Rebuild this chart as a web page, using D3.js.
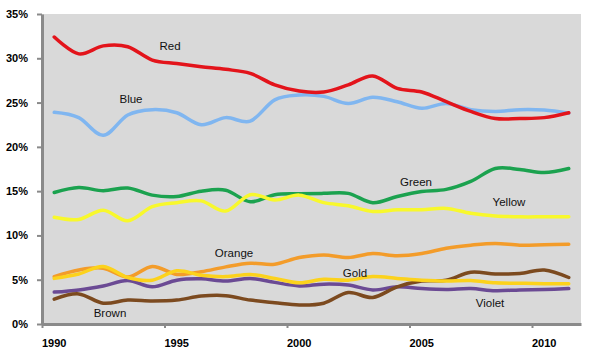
<!DOCTYPE html>
<html><head><meta charset="utf-8">
<script src="https://cdn.jsdelivr.net/npm/d3@7"></script>
<style>body{margin:0;background:#fff;} svg{display:block;}</style>
</head><body>
<svg id="chart" width="595" height="355"></svg>
<script>
const years = [1990,1991,1992,1993,1994,1995,1996,1997,1998,1999,2000,2001,2002,2003,2004,2005,2006,2007,2008,2009,2010,2011];
const xTickLabels = [1990,1995,2000,2005,2010];
const yTickValues = [0,5,10,15,20,25,30,35];

const red    = [32.4,30.5,31.4,31.3,29.8,29.4,29.05,28.75,28.3,27.0,26.3,26.2,27.0,28.0,26.6,26.2,25.1,24.0,23.2,23.2,23.3,23.85];
const blue   = [23.9,23.3,21.3,23.6,24.2,23.85,22.5,23.3,22.9,25.3,25.85,25.7,24.9,25.6,25.1,24.35,24.9,24.2,24.0,24.2,24.15,23.8];
const green  = [14.85,15.4,15.05,15.35,14.55,14.4,15.0,15.1,13.8,14.6,14.7,14.75,14.75,13.7,14.4,14.95,15.2,16.1,17.55,17.45,17.1,17.55];
const yellow = [12.05,11.8,12.85,11.65,13.25,13.7,13.9,12.75,14.6,14.0,14.55,13.7,13.35,12.7,12.9,12.9,13.05,12.5,12.2,12.1,12.1,12.1];
const orange = [5.35,6.1,6.3,5.3,6.5,5.6,5.9,6.45,6.85,6.75,7.5,7.8,7.5,7.95,7.7,7.95,8.55,8.9,9.1,8.9,8.95,9.0];
const gold   = [5.15,5.65,6.5,5.25,4.95,6.0,5.5,5.35,5.6,5.15,4.65,5.05,4.95,5.35,5.15,4.95,4.85,4.9,4.65,4.6,4.55,4.55];
const violet = [3.6,3.85,4.3,4.9,4.2,4.95,5.1,4.85,5.15,4.7,4.3,4.5,4.4,3.85,4.2,4.0,3.9,4.0,3.75,3.85,3.9,4.0];
const brown  = [2.8,3.4,2.35,2.7,2.6,2.7,3.15,3.2,2.7,2.4,2.15,2.35,3.55,3.0,4.2,4.85,4.95,5.85,5.65,5.7,6.1,5.25];

const seriesNames = ["Blue","Red","Green","Yellow","Orange","Violet","Brown","Gold"];
const seriesValues = [blue,red,green,yellow,orange,violet,brown,gold];
const colors = {Red:"#e3141b",Blue:"#80b6f0",Green:"#1ba24f",Yellow:"#f8f82c",Orange:"#f39c2a",Gold:"#fcd21c",Violet:"#6b4a94",Brown:"#7c4a1f"};
const labelPos = {Red:[170,50],Blue:[131,103],Green:[416,186],Yellow:[509,206],Orange:[234,257],Brown:[110,317],Gold:[355,277],Violet:[490,307]};

const svg = d3.select("#chart");
const pLeft = 42, pRight = 581, pTop = 14, pBottom = 324;
const x = d3.scaleLinear().domain([1989.5, 2011.5]).range([pLeft, pRight]);
const y = d3.scaleLinear().domain([0, 35]).range([pBottom, pTop]);

svg.append("rect").attr("x", pLeft).attr("y", pTop).attr("width", pRight-pLeft).attr("height", pBottom-pTop).attr("fill", "#d9d9d9");

// y axis
const yAxis = svg.append("g").attr("transform", `translate(${pLeft},0)`)
  .call(d3.axisLeft(y).tickValues(yTickValues).tickSize(5).tickSizeOuter(0).tickPadding(9).tickFormat(d => d + "%"));
yAxis.select(".domain").attr("stroke", "#8a8a8a").attr("stroke-width", 3);
yAxis.selectAll(".tick line").attr("stroke", "#8a8a8a").attr("stroke-width", 2);
yAxis.selectAll("text").attr("font-family", "Liberation Sans, Arial, sans-serif").attr("font-weight", "bold").attr("font-size", 11).attr("fill", "#000");

// x axis
const xAxis = svg.append("g").attr("transform", `translate(0,${pBottom})`)
  .call(d3.axisBottom(x).tickValues(xTickLabels.map(v => v - 0.5)).tickSize(4).tickSizeOuter(0).tickFormat(""));
xAxis.select(".domain").attr("stroke", "#8a8a8a").attr("stroke-width", 3);
xAxis.selectAll(".tick line").attr("stroke", "#8a8a8a").attr("stroke-width", 2);
svg.append("g").selectAll("text").data(xTickLabels).join("text")
  .attr("x", d => x(d)).attr("y", 347).attr("text-anchor", "middle")
  .attr("font-family", "Liberation Sans, Arial, sans-serif").attr("font-weight", "bold").attr("font-size", 11).attr("fill", "#000")
  .text(d => d);

const line = d3.line().x((d, i) => x(years[i])).y(d => y(d)).curve(d3.curveCardinal.tension(0));

seriesNames.forEach((name, k) => {
  svg.append("path").datum(seriesValues[k]).attr("d", line)
    .attr("fill", "none").attr("stroke", colors[name]).attr("stroke-width", 3.5)
    .attr("stroke-linejoin", "round").attr("stroke-linecap", "round");
});

svg.append("g").selectAll("text").data(seriesNames).join("text")
  .attr("x", d => labelPos[d][0]).attr("y", d => labelPos[d][1]).attr("text-anchor", "middle")
  .attr("font-family", "Liberation Sans, Arial, sans-serif").attr("font-size", 11.5).attr("fill", "#111")
  .text(d => d);
</script>
</body></html>
